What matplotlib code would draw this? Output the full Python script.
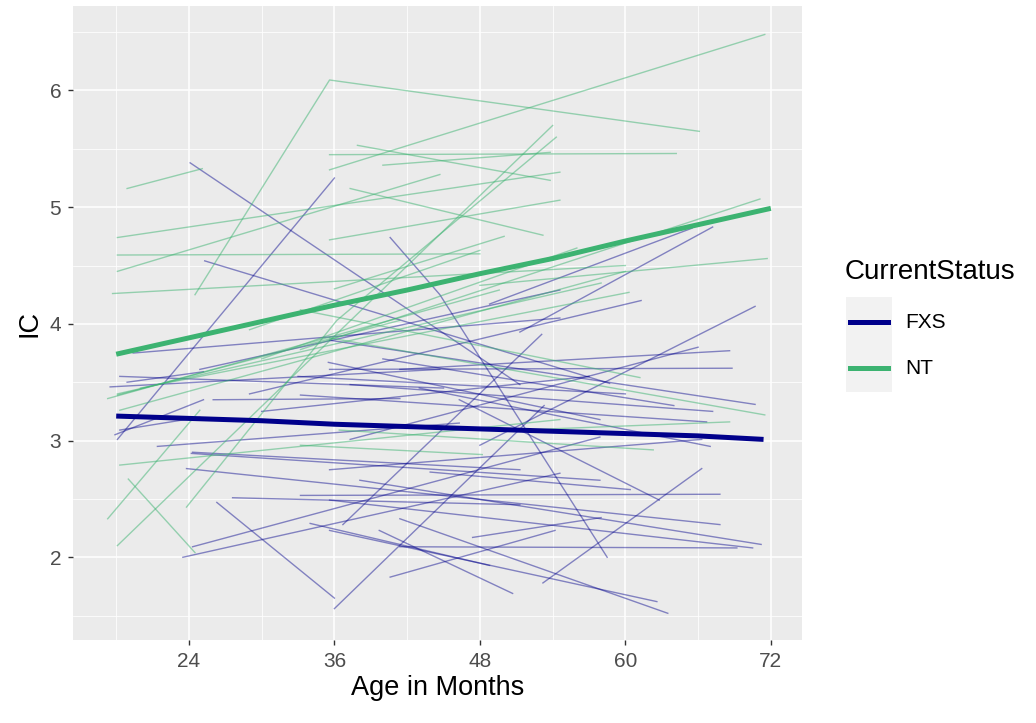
import matplotlib
matplotlib.use("Agg")
import matplotlib.pyplot as plt
from matplotlib.lines import Line2D
from matplotlib.patches import Rectangle

plt.rcParams["font.family"] = ["Liberation Sans", "DejaVu Sans"]

# individual trajectories (age in months, IC score)
nt_ages = [
    [24.5, 35.6, 66.1], [18.9, 25.1], [35.6, 71.5], [35.6, 64.2], [37.9, 53.8],
    [40.0, 53.8], [37.3, 53.2], [18.1, 54.6], [18.1, 44.7], [18.1, 48.0],
    [17.7, 60.0], [48.0, 71.7], [33.2, 71.1], [18.1, 54.0], [23.8, 36.2, 54.3],
    [17.3, 24.9], [19.0, 24.5], [18.3, 54.6], [17.3, 49.6], [18.3, 60.0],
    [20.0, 60.3], [33.2, 61.2], [35.6, 71.5], [36.4, 62.3], [33.2, 48.2],
    [51.3, 68.6], [35.6, 54.6], [29.0, 48.0], [18.1, 41.4], [18.1, 58.0],
    [30.0, 56.0], [36.0, 50.0],
]
nt_ic = [
    [4.25, 6.09, 5.65], [5.16, 5.33], [5.32, 6.48], [5.45, 5.46], [5.53, 5.23],
    [5.36, 5.47], [5.16, 4.76], [4.74, 5.30], [4.45, 5.28], [4.59, 4.60],
    [4.26, 4.50], [4.33, 4.56], [3.78, 5.07], [2.10, 5.70], [2.43, 4.03, 5.60],
    [2.33, 3.26], [2.67, 2.04], [2.79, 3.18], [3.36, 4.29], [3.26, 4.45],
    [3.45, 4.27], [4.12, 3.54], [3.88, 3.22], [3.09, 2.92], [2.96, 2.88],
    [3.09, 3.16], [4.72, 5.06], [3.95, 4.63], [3.39, 4.03], [3.40, 4.35],
    [3.70, 4.65], [4.30, 4.75],
]

fxs_ages = [
    [24.1, 51.3], [18.1, 36.0], [25.3, 58.7], [40.6, 44.7, 58.5], [48.8, 65.5],
    [51.3, 67.2], [48.0, 70.7], [37.3, 66.0], [41.4, 68.6], [35.6, 68.8],
    [35.6, 70.7], [37.3, 67.2], [33.2, 66.7], [53.2, 66.3], [35.6, 66.3],
    [43.9, 60.4], [33.2, 67.8], [38.1, 71.2], [35.6, 70.5], [41.4, 69.2],
    [39.7, 50.7], [35.6, 62.6], [41.4, 63.5], [26.3, 36.0], [36.0, 53.3],
    [23.5, 54.6], [24.3, 57.9], [27.6, 51.3], [23.8, 67.8], [24.2, 57.9],
    [21.4, 46.3], [40.6, 54.2], [36.7, 53.1], [35.5, 57.9], [17.5, 44.7],
    [18.9, 25.2], [17.9, 25.2], [19.4, 54.6], [18.3, 24.9], [26.0, 41.4],
    [24.3, 51.3], [34.0, 48.8], [47.4, 58.0], [46.3, 62.8], [24.9, 54.6],
    [29.0, 61.3], [33.0, 60.0], [40.0, 64.0], [30.0, 57.0], [43.0, 67.0],
    [18.3, 45.0],
]
fxs_ic = [
    [5.38, 3.48], [3.01, 5.25], [4.54, 3.49], [4.74, 4.25, 2.00], [4.17, 4.82],
    [3.93, 4.83], [2.96, 4.15], [3.01, 3.80], [3.61, 3.77], [3.61, 3.62],
    [3.86, 3.31], [3.48, 3.25], [3.39, 3.16], [1.78, 2.76], [2.75, 3.01],
    [2.73, 2.58], [2.53, 2.54], [2.66, 2.11], [2.49, 2.08], [2.09, 2.08],
    [2.23, 1.69], [2.23, 1.62], [2.33, 1.52], [2.47, 1.65], [1.56, 3.30],
    [2.00, 2.72], [2.09, 3.03], [2.51, 2.45], [2.76, 2.28], [2.89, 2.66],
    [2.95, 3.15], [1.83, 2.23], [2.28, 3.91], [3.67, 3.18], [3.46, 3.61],
    [3.50, 3.59], [3.05, 3.35], [3.75, 4.05], [3.09, 3.20], [3.35, 3.36],
    [2.90, 2.75], [2.29, 1.93], [2.17, 2.34], [3.35, 2.49], [3.61, 4.29],
    [3.40, 4.20], [3.55, 3.40], [3.70, 3.30], [3.25, 3.55], [3.45, 2.95],
    [3.55, 3.45],
]

# group mean trajectories
mean_ages = [18, 24, 30, 36, 42, 48, 54, 60, 66, 72]
nt_mean = [3.74, 3.88, 4.02, 4.16, 4.29, 4.43, 4.56, 4.71, 4.85, 4.99]
fxs_mean_ages = [18, 24, 30, 36, 42, 48, 54, 60, 66, 71.4]
fxs_mean = [3.21, 3.19, 3.17, 3.14, 3.12, 3.10, 3.08, 3.06, 3.04, 3.01]

groups = ["FXS", "NT"]
colors = {"FXS": "#00008B", "NT": "#3CB371"}

fig = plt.figure(figsize=(10.36, 7.23), dpi=100)
ax = fig.add_axes([0.0705, 0.1148, 0.7035, 0.8769])
ax.set_facecolor("#EBEBEB")

for a, v in zip(fxs_ages, fxs_ic):
    ax.plot(a, v, color=colors["FXS"], alpha=0.45, lw=1.0, zorder=2)
for a, v in zip(nt_ages, nt_ic):
    ax.plot(a, v, color=colors["NT"], alpha=0.5, lw=1.0, zorder=2)

ax.plot(fxs_mean_ages, fxs_mean, color=colors["FXS"], lw=3.6, zorder=3,
        solid_capstyle="butt")
ax.plot(mean_ages, nt_mean, color=colors["NT"], lw=3.6, zorder=3,
        solid_capstyle="butt")

ax.set_xlim(14.44, 74.56)
ax.set_ylim(1.291, 6.724)
ax.set_xticks([24, 36, 48, 60, 72])
ax.set_yticks([2, 3, 4, 5, 6])
ax.set_xticks([18, 30, 42, 54, 66], minor=True)
ax.set_yticks([1.5, 2.5, 3.5, 4.5, 5.5, 6.5], minor=True)
ax.grid(which="major", color="white", lw=1.1, zorder=0)
ax.grid(which="minor", color="white", lw=0.55, zorder=0)
ax.set_axisbelow(True)
for s in ax.spines.values():
    s.set_visible(False)
ax.tick_params(which="major", length=3.5, width=1, color="#333333",
               labelcolor="#4D4D4D", labelsize=15, pad=5)
ax.tick_params(which="minor", length=0)
ax.set_xlabel("Age in Months", fontsize=19.5, color="black", labelpad=3)
ax.set_ylabel("IC", fontsize=19.5, color="black", labelpad=5)

# legend, ggplot style
fig.text(845 / 1036, 1 - 272 / 723, "CurrentStatus", fontsize=20,
         va="center", ha="left")
fig.add_artist(Rectangle((846 / 1036, 1 - 392 / 723), 46 / 1036, 95 / 723,
                         transform=fig.transFigure, facecolor="#F2F2F2",
                         edgecolor="none"))
for i, g in enumerate(groups):
    yy = 1 - (322 + 46 * i) / 723
    fig.add_artist(Line2D([850 / 1036, 888 / 1036], [yy, yy],
                          transform=fig.transFigure, color=colors[g], lw=3.6))
    fig.text(905 / 1036, yy, g, fontsize=15, va="center", ha="left")

fig.savefig("out.png", dpi=100)
